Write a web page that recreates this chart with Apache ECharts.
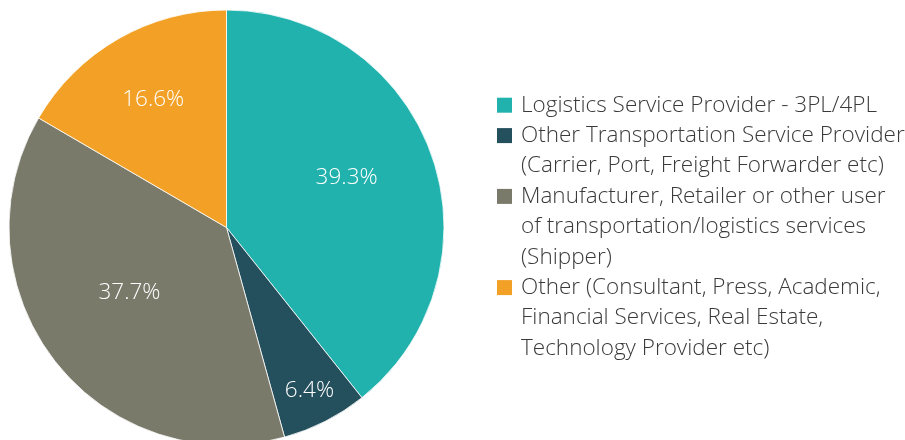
<!DOCTYPE html>
<html>
<head>
<meta charset="utf-8">
<script src="https://cdn.jsdelivr.net/npm/echarts@6/dist/echarts.min.js"></script>
<style>
  html, body { margin: 0; padding: 0; background: #fff; }
  #main { width: 905px; height: 440px; }
</style>
</head>
<body>
<div id="main"></div>
<script>
// categories, values and colours
const categories = [
  'Logistics Service Provider - 3PL/4PL',
  'Other Transportation Service Provider (Carrier, Port, Freight Forwarder etc)',
  'Manufacturer, Retailer or other user of transportation/logistics services (Shipper)',
  'Other (Consultant, Press, Academic, Financial Services, Real Estate, Technology Provider etc)'
]
const legendLines = [
  ['Logistics Service Provider - 3PL/4PL'],
  ['Other Transportation Service Provider', '(Carrier, Port, Freight Forwarder etc)'],
  ['Manufacturer, Retailer or other user', 'of transportation/logistics services', '(Shipper)'],
  ['Other (Consultant, Press, Academic,', 'Financial Services, Real Estate,', 'Technology Provider etc)']
]
const values = [39.3, 6.4, 37.7, 16.6]
const colors = ['#21b2ae', '#244f5c', '#797a6a', '#f2a126']
// where each inside label sits: fraction of radius, and a small turn in degrees
const labelRadius = [0.599, 0.84, 0.537, 0.676]
const labelTurn = [-3.5, 0, 3.8, 0]

const font = '"Open Sans", "DejaVu Sans", sans-serif'
const cx = 226.5
const cy = 227.5
const R = 217.5
const total = values.reduce((a, b) => a + b, 0)
const lh = 30.4

const legendRich = {
  t: { fontSize: 22.5, lineHeight: lh, color: '#3a3a3a', fontFamily: font, fontWeight: 300, padding: [0, 0, 0, 9] },
  sp: { width: 15, height: 15, lineHeight: lh }
}
colors.forEach((c, i) => {
  legendRich['m' + i] = { width: 15, height: 15, lineHeight: lh, backgroundColor: c }
})

const myChart = echarts.init(document.getElementById('main'))
const option = {
  animation: false,
  color: colors,
  legend: {
    orient: 'vertical',
    left: 492,
    top: 90,
    padding: 0,
    itemGap: 0,
    itemWidth: 0,
    itemHeight: 0,
    icon: 'none',
    selectedMode: false,
    data: categories,
    formatter: function (name) {
      const i = categories.indexOf(name)
      return legendLines[i].map((l, j) => (j === 0 ? '{m' + i + '|}' : '{sp|}') + '{t|' + l + '}').join('\n')
    },
    textStyle: { fontSize: 22.5, lineHeight: lh, fontFamily: font, rich: legendRich }
  },
  series: [
    {
      type: 'pie',
      center: [cx, cy],
      radius: [0, R],
      startAngle: 90,
      clockwise: true,
      silent: true,
      itemStyle: { borderColor: '#ffffff', borderWidth: 0.8 },
      label: {
        show: true,
        position: 'inside',
        color: '#ffffff',
        fontSize: 22.5,
        fontFamily: font,
        fontWeight: 300,
        formatter: function (p) {
          return p.value.toFixed(1) + '%'
        }
      },
      labelLine: { show: false },
      labelLayout: function (params) {
        const i = params.dataIndex
        let cum = 0
        for (let k = 0; k < i; k++) cum += values[k]
        const a = (cum + values[i] / 2) / total * Math.PI * 2 + labelTurn[i] * Math.PI / 180
        const r = R * labelRadius[i]
        return { x: cx + r * Math.sin(a), y: cy - r * Math.cos(a), align: 'center', verticalAlign: 'middle' }
      },
      data: categories.map((name, i) => ({ name: name, value: values[i] }))
    }
  ]
}
myChart.setOption(option)
</script>
</body>
</html>
